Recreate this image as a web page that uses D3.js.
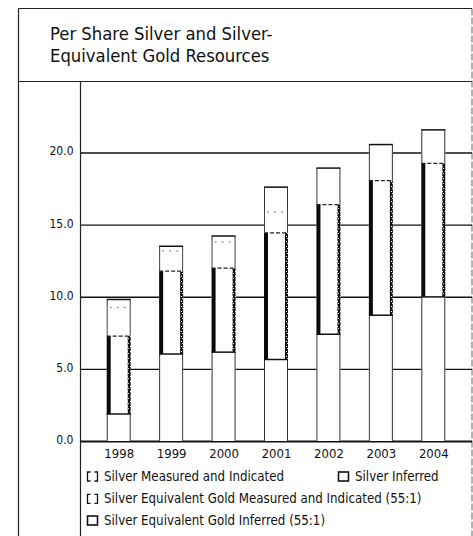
<!DOCTYPE html>
<html>
<head>
<meta charset="utf-8">
<script src="https://cdn.jsdelivr.net/npm/d3@7"></script>
<style>
  html, body { margin: 0; padding: 0; background: #fff; }
  svg { display: block; }
  text { font-family: 'DejaVu Sans Condensed', 'Liberation Sans Narrow', sans-serif; fill: #111; }
</style>
</head>
<body>
<svg id="chart" width="473" height="536"></svg>
<script>
// Per-share resources (ounces), by year
const years = ["1998", "1999", "2000", "2001", "2002", "2003", "2004"];
const silverMeasured = [1.87, 6.03, 6.16, 5.65, 7.40, 8.72, 9.99];
const silverInferred = [5.40, 5.74, 5.82, 8.78, 8.98, 9.33, 9.26];
const goldMeasured   = [1.98, 1.41, 1.82, 1.44, 0, 0, 0];
const goldInferred   = [0.56, 0.32, 0.41, 1.73, 2.54, 2.50, 2.32];
const yTicks = [0, 5, 10, 15, 20];
const titleLines = ["Per Share Silver and Silver-", "Equivalent Gold Resources"];
const legendLabels = [
  "Silver Measured and Indicated",
  "Silver Inferred",
  "Silver Equivalent Gold Measured and Indicated (55:1)",
  "Silver Equivalent Gold Inferred (55:1)"
];

const keys = ["silverMeasured", "silverInferred", "goldMeasured", "goldInferred"];
const table = years.map((year, i) => ({
  year,
  silverMeasured: silverMeasured[i],
  silverInferred: silverInferred[i],
  goldMeasured: goldMeasured[i],
  goldInferred: goldInferred[i]
}));
const series = d3.stack().keys(keys)(table);

const FONT = "'DejaVu Sans Condensed', 'Liberation Sans Narrow', sans-serif";
const svg = d3.select("#chart");
const H = 536;
const frameL = 18.5, frameR = 472, frameT = 8.5, titleB = 81.5;
const axisX = 80.5;
const barW = 24;

const x = d3.scalePoint().domain(years).range([118.7, 433.3]);
const y = d3.scaleLinear().domain([0, 20]).range([441, 152.5]);

// stipple used for the grainy right edge of the inferred-silver band
const defs = svg.append("defs");
const pat = defs.append("pattern").attr("id", "stipple")
  .attr("patternUnits", "userSpaceOnUse").attr("width", 3).attr("height", 5);
pat.append("rect").attr("width", 3).attr("height", 5).attr("fill", "#111");
pat.append("rect").attr("x", 1).attr("y", 1).attr("width", 1).attr("height", 1).attr("fill", "#fff");
pat.append("rect").attr("x", 2).attr("y", 3).attr("width", 1).attr("height", 1).attr("fill", "#ddd");

// outer frame and title panel
const frame = svg.append("g").attr("stroke", "#222").attr("fill", "none");
frame.append("line").attr("x1", frameL).attr("x2", frameR).attr("y1", frameT).attr("y2", frameT).attr("stroke-width", 1.2);
frame.append("line").attr("x1", frameL).attr("x2", frameR).attr("y1", titleB).attr("y2", titleB).attr("stroke-width", 1.2);
frame.append("line").attr("x1", frameL).attr("x2", frameL).attr("y1", frameT).attr("y2", H).attr("stroke-width", 1.2);
frame.append("line").attr("x1", frameR).attr("x2", frameR).attr("y1", frameT).attr("y2", H)
  .attr("stroke", "#666").attr("stroke-width", 1).attr("stroke-dasharray", "7,2");

svg.append("g").selectAll("text").data(titleLines).join("text")
  .attr("x", 50).attr("y", (d, i) => 40 + i * 21.7)
  .attr("font-size", 18.3)
  .text(d => d);

// gridlines + value labels
const yAxis = d3.axisLeft(y).tickValues(yTicks)
  .tickSize(-(frameR - axisX)).tickPadding(7)
  .tickFormat(d3.format(".1f"));
const gy = svg.append("g").attr("transform", `translate(${axisX},0)`).call(yAxis);
gy.select(".domain").remove();
gy.selectAll(".tick line").attr("stroke", "#111").attr("stroke-width", d => d === 0 ? 2 : 1.4);
gy.selectAll(".tick text").attr("font-size", 12).attr("dy", "0.2em")
  .attr("font-family", FONT).attr("fill", "#111");

// bars
const bars = svg.append("g");
const left = d => x(d.data.year) - barW / 2;

// white body hides the gridlines behind each column
bars.selectAll("rect.body").data(series[series.length - 1]).join("rect")
  .attr("class", "body")
  .attr("x", left).attr("width", barW)
  .attr("y", d => y(d[1])).attr("height", d => y(0) - y(d[1]))
  .attr("fill", "#fff");

function sides(g, layer, color, w) {
  g.selectAll(null).data(layer).join("path")
    .attr("d", d => {
      const x0 = left(d) + 0.5, x1 = left(d) + barW - 0.5;
      return `M${x0},${y(d[0])}V${y(d[1])}M${x1},${y(d[0])}V${y(d[1])}`;
    })
    .attr("stroke", color).attr("stroke-width", w).attr("fill", "none");
}

// silver measured & indicated: thin sides
sides(bars.append("g"), series[0], "#333", 1);

// silver inferred: heavy dark edges
const inf = bars.append("g");
inf.selectAll("rect.l").data(series[1]).join("rect").attr("class", "l")
  .attr("x", left).attr("width", 4)
  .attr("y", d => y(d[1])).attr("height", d => y(d[0]) - y(d[1]))
  .attr("fill", "#0a0a0a");
inf.selectAll("rect.r").data(series[1]).join("rect").attr("class", "r")
  .attr("x", d => left(d) + barW - 3).attr("width", 3)
  .attr("y", d => y(d[1])).attr("height", d => y(d[0]) - y(d[1]))
  .attr("fill", "url(#stipple)");
inf.selectAll("line.b").data(series[1]).join("line").attr("class", "b")
  .attr("x1", left).attr("x2", d => left(d) + barW)
  .attr("y1", d => y(d[0])).attr("y2", d => y(d[0]))
  .attr("stroke", "#111").attr("stroke-width", 1.5);
inf.selectAll("line.t").data(series[1]).join("line").attr("class", "t")
  .attr("x1", left).attr("x2", d => left(d) + barW)
  .attr("y1", d => y(d[1])).attr("y2", d => y(d[1]))
  .attr("stroke", "#222").attr("stroke-width", 1.2).attr("stroke-dasharray", "4,2");

// gold measured & indicated: thin sides, faint dashed top
const gm = bars.append("g");
sides(gm, series[2], "#444", 1);
gm.selectAll("line").data(series[2].filter(d => d[1] - d[0] > 0)).join("line")
  .attr("x1", d => left(d) + 3).attr("x2", d => left(d) + barW - 2)
  .attr("y1", d => y(d[1])).attr("y2", d => y(d[1]))
  .attr("stroke", "#777").attr("stroke-width", 1).attr("stroke-dasharray", "2,5");

// gold inferred: thin sides, solid cap
const gi = bars.append("g");
sides(gi, series[3], "#333", 1);
gi.selectAll("line").data(series[3]).join("line")
  .attr("x1", left).attr("x2", d => left(d) + barW)
  .attr("y1", d => y(d[1])).attr("y2", d => y(d[1]))
  .attr("stroke", "#111").attr("stroke-width", 1.5);

// vertical axis rule (runs through the legend area)
svg.append("line").attr("x1", axisX).attr("x2", axisX).attr("y1", titleB).attr("y2", H)
  .attr("stroke", "#222").attr("stroke-width", 1.2);

// year labels
const xAxis = d3.axisBottom(x).tickSize(0).tickPadding(0);
const gx = svg.append("g").attr("transform", "translate(0,458)").call(xAxis);
gx.select(".domain").remove();
gx.selectAll(".tick text").attr("font-size", 13).attr("dy", 0).attr("fill", "#111")
  .attr("font-family", FONT);

// legend
const slots = [[87, 481], [338, 481], [87, 503.3], [87, 525]];
const swatchKind = ["bracket", "box", "bracket", "box"];
const lg = svg.append("g");
legendLabels.forEach((label, i) => {
  const [lx, ly] = slots[i];
  const sx = lx + 0.5, sy = ly - 9, sw = 10, sh = 9;
  if (swatchKind[i] === "bracket") {
    lg.append("path")
      .attr("d", `M${sx + 3},${sy}H${sx}V${sy + sh}H${sx + 3}M${sx + sw - 3},${sy}H${sx + sw}V${sy + sh}H${sx + sw - 3}`)
      .attr("fill", "none").attr("stroke", "#111").attr("stroke-width", 1.3);
  } else {
    lg.append("rect").attr("x", sx).attr("y", sy).attr("width", sw).attr("height", sh)
      .attr("fill", "#fff").attr("stroke", "#111").attr("stroke-width", 1.6);
  }
  lg.append("text").attr("x", lx + 17).attr("y", ly)
    .attr("font-size", 13.2)
    .text(label);
});
</script>
</body>
</html>
